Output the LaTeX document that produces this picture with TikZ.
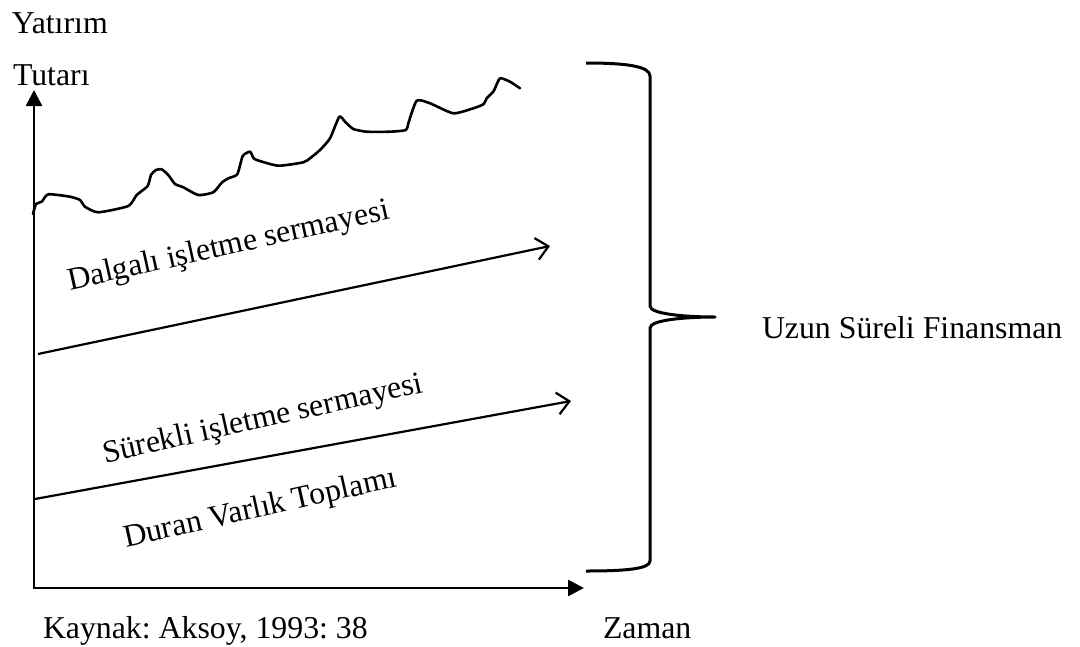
\documentclass[tikz,border=0pt]{standalone}
\usepackage{fontspec}
\setmainfont{Liberation Serif}
\usetikzlibrary{arrows.meta}
\frenchspacing
\begin{document}
\begin{tikzpicture}[x=1pt,y=-1pt,
  lbl/.style={inner sep=0pt,outer sep=0pt,anchor=base west,font=\fontsize{31.8}{36}\selectfont},
  rlbl/.style={lbl,rotate=12.5},
  axis/.style={line width=2.6pt,-{Triangle[length=16pt,width=16pt]}},
  trend/.style={line width=2.2pt,-{Straight Barb[length=12pt,width=22pt,line width=2.2pt]}},
  wave/.style={line width=2.6pt,line join=round,line cap=round},
  brace/.style={line width=3pt,line join=round}]
\useasboundingbox (0,0) rectangle (1080,646);
% axes
\coordinate (O) at (34,588);
\coordinate (ytop) at (34,90);
\coordinate (xend) at (584,588);
\draw[axis] (O) -- (ytop);
\draw[axis] ([xshift=-1.3pt]O) -- (xend);
% trend arrows
\coordinate (a1s) at (38,354);
\coordinate (a1e) at (550,246);
\coordinate (a2s) at (35,499);
\coordinate (a2e) at (571,401);
\draw[trend] (a1s) -- (a1e);
\draw[trend] (a2s) -- (a2e);
% wavy line
\draw[wave] plot[smooth,tension=0.35] coordinates {
(33,214) (36,204) (41.7,201.7) (48.3,194.3) (70,196.7) (80,200) (85,206.7) (98.3,212.3)
(128.3,206) (136.7,195) (147.7,186) (151,175) (156,170) (161.7,169.3) (168.3,175) (175,184)
(183.3,187.3) (198.3,195) (213.3,192.3) (221.7,182.7) (228.3,178.3) (237.3,174.3) (242.7,156)
(250,151.7) (253.3,157.7) (256.7,160) (278.3,165.7) (303.3,162.3) (310,158.3) (320,150)
(330,138.3) (339.3,116.7) (345,121.7) (353.3,129) (366.7,131.7) (390,131.7) (406,130)
(408.3,123.3) (416.7,100.7) (430,103.3) (453.3,113.3) (473.3,108.3) (483.3,104.3) (486.7,98.3)
(490,95) (493.3,91.7) (495,88.3) (500,78.3) (510,81.7) (520,88.3)};
% brace
\coordinate (btop) at (586,63);
\coordinate (bbot) at (586,571);
\coordinate (tip) at (715,317);
\draw[brace] (btop) .. controls (625,63) and (650,66) .. (650,76) -- (650,306)
  .. controls (650,314) and (685,317) .. (tip)
  .. controls (685,317) and (650,320) .. (650,328) -- (650,561)
  .. controls (650,569) and (625,571) .. (bbot);
% labels
\node[lbl] (yat) at (12,33) {Yatırım};
\node[lbl] (tut) at (13,85) {Tutarı};
\node[rlbl] (dal) at (70,290) {Dalgalı işletme sermayesi};
\node[rlbl] (sur) at (105,463) {Sürekli işletme sermayesi};
\node[rlbl] (dur) at (126,547) {Duran Varlık Toplamı};
\node[lbl] (uzun) at (762,338) {Uzun Süreli Finansman};
\node[lbl] (kay) at (43,638) {Kaynak: Aksoy, 1993: 38};
\node[lbl] (zam) at (603,638) {Zaman};
\end{tikzpicture}
\end{document}
